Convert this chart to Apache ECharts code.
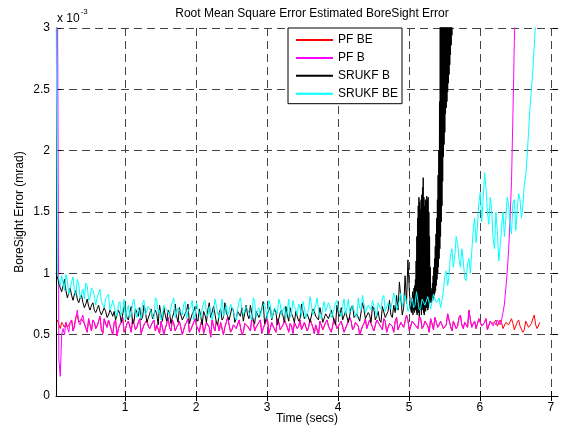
<!DOCTYPE html>
<html>
<head>
<meta charset="utf-8">
<script src="https://cdn.jsdelivr.net/npm/echarts@6/dist/echarts.min.js"></script>
<style>
  html, body { margin: 0; padding: 0; background: #fff; }
  #chart { width: 561px; height: 432px; }
</style>
</head>
<body>
<div id="chart"></div>
<script>
// time grids (secs): first sample and step; the *Mid arrays sit half a step later
const t0 = 0.025
const pfT0 = 0.045
const dt = 0.04
const fineT0 = 5.035
const fineDt = 0.005

const xTicks = [1, 2, 3, 4, 5, 6, 7]
const yTicks = [0, 0.5, 1, 1.5, 2, 2.5, 3]

// values in units of 1e-3 mrad
const pfB = [3.5, 0.16, 0.55,
  0.6, 0.52, 0.62, 0.56, 0.7, 0.58, 0.66, 0.55, 0.63, 0.53, 0.6, 0.57, 0.65, 0.51, 0.59, 0.62, 0.54, 0.6, 0.49, 0.58, 0.64, 0.55, 0.61, 0.52, 0.59, 0.56, 0.63, 0.5, 0.6, 0.57, 0.54, 0.62, 0.58, 0.51, 0.6, 0.55, 0.64, 0.53,
  0.59, 0.56, 0.61, 0.5, 0.58, 0.63, 0.54, 0.6, 0.57, 0.52, 0.62, 0.55, 0.59, 0.48, 0.57, 0.61, 0.53, 0.6, 0.56, 0.64, 0.52, 0.58, 0.55, 0.62, 0.5, 0.59, 0.57, 0.53, 0.61, 0.56, 0.6, 0.51, 0.58, 0.63, 0.55, 0.57, 0.52, 0.6, 0.54, 0.62,
  0.56, 0.59, 0.51, 0.61, 0.57, 0.54, 0.6, 0.53, 0.63, 0.56, 0.58, 0.5, 0.6, 0.55, 0.62, 0.57, 0.53, 0.59, 0.56, 0.61, 0.52, 0.58, 0.64, 0.54, 0.6, 0.57, 0.51, 0.59, 0.55, 0.62, 0.58, 0.53, 0.6, 0.56, 0.63, 0.52, 0.59, 0.57, 0.61, 0.54,
  0.6, 0.56, 0.66, 0.53, 0.61, 0.58, 0.55, 0.63, 0.57, 0.6, 0.52, 0.59, 0.64, 0.56, 0.61, 0.55, 0.58, 0.62, 0.53, 0.6, 0.57, 0.66, 0.55, 0.59, 0.7, 0.56, 0.61, 0.54, 0.6, 0.57, 0.63, 0.55, 0.59,
  0.6, 0.62, 0.58, 0.68, 0.88, 1.2, 1.75, 2.9, 3.6]
const pfBMid = [0.3, 0.5, 0.5,
  0.56, 0.6, 0.53, 0.64, 0.6, 0.63, 0.59, 0.52, 0.58, 0.62, 0.55, 0.61, 0.54, 0.63, 0.56, 0.58, 0.5, 0.62, 0.55, 0.6,
  0.52, 0.59, 0.57, 0.63, 0.54, 0.6, 0.51, 0.58, 0.62, 0.55, 0.6, 0.53, 0.57, 0.61, 0.5, 0.59, 0.56, 0.62, 0.53, 0.58,
  0.61, 0.54, 0.6, 0.52, 0.57, 0.63, 0.55, 0.59, 0.51, 0.6, 0.56, 0.62, 0.53, 0.58, 0.6, 0.5, 0.57, 0.63, 0.54, 0.59,
  0.55, 0.61, 0.52, 0.6, 0.57, 0.64, 0.53, 0.58, 0.62, 0.55, 0.59, 0.51, 0.6, 0.56, 0.63, 0.54, 0.58, 0.61, 0.52, 0.57,
  0.6, 0.55, 0.62, 0.53, 0.59, 0.56, 0.64, 0.51, 0.58, 0.61, 0.54, 0.6, 0.57, 0.52, 0.63, 0.55, 0.59, 0.62, 0.53, 0.58,
  0.61, 0.56, 0.6, 0.5, 0.57, 0.63, 0.55, 0.59, 0.53, 0.62, 0.58, 0.54, 0.61, 0.56, 0.6, 0.52, 0.64, 0.57, 0.59, 0.55,
  0.62, 0.53, 0.6, 0.58, 0.65, 0.55, 0.61, 0.57, 0.63, 0.54, 0.6, 0.58, 0.62, 0.56, 0.67, 0.57, 0.61, 0.55, 0.64, 0.58,
  0.6, 0.56, 0.62, 0.59, 0.55, 0.63, 0.57, 0.6, 0.54, 0.61,
  0.57, 0.58, 0.63, 0.62, 0.75, 1.02, 1.45, 2.3, 3.3]

const pfBE = [0.62, 0.55, 0.58,
  0.6, 0.55, 0.62, 0.58, 0.66, 0.6, 0.64, 0.56, 0.63, 0.53, 0.6, 0.57, 0.65, 0.51, 0.59, 0.62, 0.54, 0.6, 0.49, 0.58, 0.64, 0.55, 0.61, 0.52, 0.59, 0.56, 0.63, 0.5, 0.6, 0.57, 0.54, 0.62, 0.58, 0.51, 0.6, 0.55, 0.64, 0.53,
  0.59, 0.56, 0.61, 0.5, 0.58, 0.63, 0.54, 0.6, 0.57, 0.52, 0.62, 0.55, 0.59, 0.48, 0.57, 0.61, 0.53, 0.6, 0.56, 0.64, 0.52, 0.58, 0.55, 0.62, 0.5, 0.59, 0.57, 0.53, 0.61, 0.56, 0.6, 0.51, 0.58, 0.63, 0.55, 0.57, 0.52, 0.6, 0.54, 0.62,
  0.56, 0.59, 0.51, 0.61, 0.57, 0.54, 0.6, 0.53, 0.63, 0.56, 0.58, 0.5, 0.6, 0.55, 0.62, 0.57, 0.53, 0.59, 0.56, 0.61, 0.52, 0.58, 0.64, 0.54, 0.6, 0.57, 0.51, 0.59, 0.55, 0.62, 0.58, 0.53, 0.6, 0.56, 0.63, 0.52, 0.59, 0.57, 0.61, 0.54,
  0.6, 0.56, 0.66, 0.53, 0.61, 0.58, 0.55, 0.63, 0.57, 0.6, 0.52, 0.59, 0.64, 0.56, 0.61, 0.55, 0.58, 0.62, 0.53, 0.6, 0.57, 0.66, 0.55, 0.59, 0.7, 0.56, 0.61, 0.54, 0.6, 0.57, 0.63, 0.55, 0.59,
  0.6, 0.57, 0.62, 0.55, 0.6, 0.58, 0.63, 0.54, 0.6, 0.57, 0.52, 0.61, 0.56, 0.59, 0.66, 0.55, 0.6]
const pfBEMid = [0.58, 0.6, 0.56,
  0.56, 0.6, 0.53, 0.64, 0.6, 0.63, 0.59, 0.52, 0.58, 0.62, 0.55, 0.61, 0.54, 0.63, 0.56, 0.58, 0.5, 0.62, 0.55, 0.6,
  0.52, 0.59, 0.57, 0.63, 0.54, 0.6, 0.51, 0.58, 0.62, 0.55, 0.6, 0.53, 0.57, 0.61, 0.5, 0.59, 0.56, 0.62, 0.53, 0.58,
  0.61, 0.54, 0.6, 0.52, 0.57, 0.63, 0.55, 0.59, 0.51, 0.6, 0.56, 0.62, 0.53, 0.58, 0.6, 0.5, 0.57, 0.63, 0.54, 0.59,
  0.55, 0.61, 0.52, 0.6, 0.57, 0.64, 0.53, 0.58, 0.62, 0.55, 0.59, 0.51, 0.6, 0.56, 0.63, 0.54, 0.58, 0.61, 0.52, 0.57,
  0.6, 0.55, 0.62, 0.53, 0.59, 0.56, 0.64, 0.51, 0.58, 0.61, 0.54, 0.6, 0.57, 0.52, 0.63, 0.55, 0.59, 0.62, 0.53, 0.58,
  0.61, 0.56, 0.6, 0.5, 0.57, 0.63, 0.55, 0.59, 0.53, 0.62, 0.58, 0.54, 0.61, 0.56, 0.6, 0.52, 0.64, 0.57, 0.59, 0.55,
  0.62, 0.53, 0.6, 0.58, 0.65, 0.55, 0.61, 0.57, 0.63, 0.54, 0.6, 0.58, 0.62, 0.56, 0.67, 0.57, 0.61, 0.55, 0.64, 0.58,
  0.6, 0.56, 0.62, 0.59, 0.55, 0.63, 0.57, 0.6, 0.54, 0.61,
  0.58, 0.62, 0.56, 0.6, 0.54, 0.61, 0.57, 0.59, 0.55, 0.62, 0.58, 0.54, 0.6, 0.57, 0.63, 0.58, 0.56]

const srukfB = [1.0, 0.92, 0.85, 0.95, 0.8, 0.88, 0.78, 0.86, 0.76, 0.82, 0.72, 0.79, 0.7, 0.76, 0.68, 0.74, 0.66, 0.72, 0.64, 0.7, 0.65,
  0.62, 0.7, 0.6, 0.73, 0.64, 0.68, 0.59, 0.71, 0.65, 0.62, 0.74, 0.6, 0.67, 0.63, 0.7, 0.58, 0.66, 0.72, 0.61, 0.68, 0.64, 0.75, 0.6, 0.66, 0.62, 0.7, 0.59, 0.67, 0.73, 0.61, 0.65, 0.69, 0.6, 0.76, 0.63, 0.67, 0.58, 0.71, 0.64, 0.68,
  0.62, 0.72, 0.6, 0.69, 0.65, 0.61, 0.74, 0.63, 0.67, 0.59, 0.7, 0.64, 0.77, 0.6, 0.66, 0.62, 0.71, 0.58, 0.68, 0.65, 0.73, 0.61, 0.67, 0.6, 0.7, 0.63, 0.75, 0.62, 0.66, 0.59, 0.69, 0.64, 0.72, 0.6, 0.67, 0.63, 0.7, 0.61, 0.74, 0.65,
  0.62, 0.69, 0.6, 0.72, 0.64, 0.67, 0.61, 0.76, 0.63, 0.68, 0.6, 0.71, 0.65, 0.62, 0.73, 0.64, 0.69, 0.66,
  0.74, 0.82, 0.93, 0.66, 0.98, 1.11, 0.7]
const srukfBMid = [0.97, 0.88, 0.9, 0.86, 0.84, 0.82, 0.83, 0.79, 0.8, 0.76, 0.75, 0.73, 0.74, 0.7, 0.71, 0.69, 0.67, 0.69, 0.66, 0.68,
  0.69, 0.63, 0.67, 0.6, 0.7, 0.62, 0.73, 0.61, 0.68, 0.72, 0.64, 0.69, 0.6, 0.71, 0.63, 0.67, 0.74, 0.61, 0.66, 0.7,
  0.59, 0.68, 0.65, 0.72, 0.62, 0.67, 0.75, 0.6, 0.69, 0.63, 0.71, 0.58, 0.66, 0.7, 0.64, 0.73, 0.6, 0.68, 0.62, 0.76,
  0.65, 0.61, 0.7, 0.63, 0.68, 0.72, 0.6, 0.66, 0.74, 0.62, 0.69, 0.64, 0.71, 0.59, 0.67, 0.73, 0.61, 0.68, 0.63, 0.7,
  0.6, 0.66, 0.72, 0.64, 0.69, 0.61, 0.75, 0.63, 0.67, 0.6, 0.71, 0.65, 0.62, 0.73, 0.6, 0.68, 0.64, 0.7, 0.58, 0.67,
  0.72, 0.63, 0.69, 0.61, 0.74, 0.65, 0.68, 0.6, 0.71, 0.64, 0.66, 0.73, 0.62, 0.69, 0.6, 0.72, 0.65, 0.78,
  0.64, 0.68, 0.7, 0.8, 0.72, 0.75, 0.85]

// SRUKF B where it blows up, sampled finer
const srukfBFine = [0.68, 0.8, 0.7, 0.85, 0.66, 0.82, 0.7, 0.88, 0.68, 0.9, 0.7, 0.95,
  0.7, 1.1, 0.68, 1.3, 0.66, 1.45, 0.7, 1.55, 0.68, 1.62, 0.65, 1.58, 0.7, 1.52, 0.72, 1.6, 0.66, 1.64, 0.7, 1.7,
  0.72, 1.78, 0.68, 1.62, 0.66, 1.55, 0.7, 1.6, 0.69, 1.58, 0.72, 1.63, 0.74, 1.6, 0.7, 1.62, 0.72, 1.5, 0.75, 1.3, 0.76, 1.05,
  0.78, 0.88, 0.76, 0.86, 0.8, 0.92, 0.78, 0.98, 0.8, 1.05, 0.82, 1.12, 0.84, 1.22, 0.86, 1.32, 0.9, 1.45, 0.95, 1.6,
  1.0, 1.8, 1.05, 2.0, 1.12, 2.4, 1.2, 3.2, 1.3, 3.5, 1.42, 3.5, 1.55, 3.5, 1.75, 3.5, 1.95, 3.5, 2.05, 3.5, 2.15, 3.5,
  2.3, 3.5, 2.35, 3.5, 2.4, 3.5, 2.48, 3.5, 2.55, 3.5, 2.62, 3.5, 2.7, 3.5, 2.78, 3.5, 2.86, 3.5, 2.94, 3.5, 3.02, 3.5, 3.1, 3.5]

const srukfBE = [3.5,
  0.95, 0.98, 0.86, 0.94, 0.88, 0.97, 0.82, 0.92, 0.84, 0.79, 0.9, 0.8, 0.86, 0.74, 0.84, 0.77, 0.72, 0.81, 0.7, 0.78,
  0.68, 0.75, 0.66, 0.79, 0.7, 0.64, 0.76, 0.69, 0.72, 0.63, 0.78, 0.67, 0.71, 0.65, 0.8, 0.68, 0.62, 0.74, 0.7, 0.66, 0.77, 0.64, 0.72, 0.69, 0.75, 0.63, 0.7, 0.78, 0.66, 0.71, 0.64, 0.76, 0.68, 0.73, 0.62, 0.79, 0.67, 0.7, 0.65, 0.74,
  0.69, 0.76, 0.64, 0.71, 0.8, 0.66, 0.73, 0.68, 0.62, 0.77, 0.7, 0.65, 0.74, 0.69, 0.78, 0.63, 0.72, 0.67, 0.75, 0.7, 0.64, 0.79, 0.68, 0.73, 0.66, 0.71, 0.77, 0.63, 0.7, 0.74, 0.67, 0.8, 0.65, 0.72, 0.69, 0.76, 0.64, 0.71, 0.78, 0.68,
  0.73, 0.66, 0.79, 0.7, 0.75, 0.64, 0.72, 0.82, 0.68, 0.74, 0.7, 0.77, 0.65, 0.73, 0.8, 0.69, 0.76, 0.71, 0.84, 0.7, 0.78, 0.73, 0.82, 0.69, 0.76, 0.72, 0.85, 0.7, 0.79, 0.74, 0.81, 0.71, 0.83, 0.76, 0.8,
  0.78, 0.98, 0.9, 1.15, 1.05, 1.3, 1.12, 1.2, 0.96, 1.08, 1.0, 1.35, 1.25, 1.58, 1.42, 1.82, 1.5, 1.62, 1.28, 1.5, 1.1, 1.38, 1.3, 1.62, 1.4, 1.58, 1.35, 1.65, 1.45, 1.72, 1.95, 2.35, 2.65, 3.05, 3.4]
const srukfBEMid = [1.0,
  0.9, 0.92, 0.99, 0.83, 0.93, 0.86, 0.95, 0.8, 0.87, 0.92, 0.78, 0.88, 0.82, 0.8, 0.87, 0.74, 0.79, 0.83, 0.73,
  0.73, 0.65, 0.77, 0.7, 0.62, 0.74, 0.67, 0.79, 0.64, 0.71, 0.76, 0.66, 0.73, 0.69, 0.63, 0.78, 0.7, 0.65, 0.75, 0.68,
  0.72, 0.8, 0.64, 0.7, 0.66, 0.77, 0.69, 0.73, 0.62, 0.76, 0.67, 0.71, 0.78, 0.65, 0.72, 0.68, 0.74, 0.63, 0.79, 0.7,
  0.66, 0.75, 0.69, 0.62, 0.77, 0.71, 0.65, 0.73, 0.68, 0.8, 0.64, 0.72, 0.7, 0.76, 0.63, 0.74, 0.67, 0.71, 0.79, 0.66,
  0.73, 0.69, 0.64, 0.78, 0.7, 0.75, 0.65, 0.72, 0.68, 0.81, 0.66, 0.74, 0.7, 0.63, 0.77, 0.69, 0.73, 0.67, 0.76, 0.71,
  0.65, 0.79, 0.72, 0.68, 0.74, 0.66, 0.8, 0.7, 0.75, 0.67, 0.73, 0.78, 0.69, 0.76, 0.71, 0.82, 0.68, 0.75, 0.72, 0.79,
  0.7, 0.84, 0.73, 0.77, 0.71, 0.8, 0.74, 0.86, 0.72, 0.78, 0.75, 0.82, 0.7, 0.79, 0.76,
  0.72, 0.86, 1.02, 0.98, 1.2, 1.14, 1.24, 1.05, 1.1, 0.94, 1.12, 1.18, 1.45, 1.38, 1.66, 1.6, 1.7, 1.4, 1.52, 1.2,
  1.34, 1.22, 1.5, 1.45, 1.55, 1.32, 1.6, 1.52, 1.6, 1.55, 1.8, 2.15, 2.5, 2.85, 3.2]

// samples at start + i*step, with the mid samples slotted in between
function toPairs(start, step, vals, mids) {
  const out = []
  vals.forEach((v, i) => {
    out.push([start + i * step, v])
    if (mids && i < mids.length) out.push([start + (i + 0.5) * step, mids[i]])
  })
  return out
}

const font = 'Liberation Sans, Arial, sans-serif'
const gridLine = { show: true, lineStyle: { color: '#444', type: [8, 5], width: 1 } }

function lineSeries(name, color, data) {
  return {
    name: name,
    type: 'line',
    data: data,
    symbol: 'none',
    showSymbol: false,
    clip: true,
    lineStyle: { color: color, width: 1 },
    itemStyle: { color: color },
    emphasis: { disabled: true }
  }
}

const chart = echarts.init(document.getElementById('chart'))

const option = {
  animation: false,
  backgroundColor: '#fff',
  textStyle: { fontFamily: font },
  title: {
    text: 'Root Mean Square Error Estimated BoreSight Error',
    left: 307,
    textAlign: 'center',
    top: 3,
    textStyle: { fontFamily: font, fontSize: 12, fontWeight: 'normal', color: '#000' }
  },
  legend: {
    left: 288,
    top: 28,
    orient: 'vertical',
    itemWidth: 37,
    itemHeight: 12,
    itemGap: 5.9,
    padding: [6, 4, 4, 7],
    backgroundColor: '#fff',
    borderColor: '#000',
    borderWidth: 1,
    borderRadius: 0,
    itemStyle: { opacity: 0 },
    textStyle: { fontFamily: font, fontSize: 12, color: '#000' },
    data: ['PF BE', 'PF B', 'SRUKF B', 'SRUKF BE']
  },
  grid: { left: 56, right: 3, top: 28, bottom: 36, containLabel: false, outerBoundsMode: 'none' },
  xAxis: [{
    type: 'value',
    min: 0.025,
    max: 7.1,
    name: 'Time (secs)',
    nameLocation: 'middle',
    nameGap: 17,
    nameMoveOverlap: false,
    nameTextStyle: { fontFamily: font, fontSize: 12, color: '#000' },
    axisLine: { show: true, onZero: false, lineStyle: { color: '#000', width: 1 } },
    axisTick: { show: true, inside: true, length: 5, customValues: xTicks, lineStyle: { color: '#000' } },
    axisLabel: { show: true, margin: 6, customValues: xTicks, fontFamily: font, fontSize: 12, color: '#000' },
    splitLine: gridLine
  }, {
    type: 'value',
    position: 'top',
    min: 0.025,
    max: 7.1,
    axisLine: { show: false },
    axisTick: { show: true, inside: true, length: 5, customValues: xTicks, lineStyle: { color: '#000' } },
    axisLabel: { show: false },
    splitLine: { show: false }
  }],
  yAxis: [{
    type: 'value',
    min: 0,
    max: 3,
    interval: 0.5,
    name: 'BoreSight Error (mrad)',
    nameLocation: 'middle',
    nameGap: 30,
    nameMoveOverlap: false,
    nameTextStyle: { fontFamily: font, fontSize: 12, color: '#000' },
    axisLine: { show: true, onZero: false, lineStyle: { color: '#000', width: 1 } },
    axisTick: { show: true, inside: true, length: 5, lineStyle: { color: '#000' } },
    axisLabel: { show: true, margin: 6, fontFamily: font, fontSize: 12, color: '#000',
      formatter: v => yTicks.includes(v) ? String(v) : '' },
    splitLine: gridLine
  }, {
    type: 'value',
    position: 'right',
    min: 0,
    max: 3,
    interval: 0.5,
    axisLine: { show: false },
    axisTick: { show: true, inside: true, length: 5, lineStyle: { color: '#000' } },
    axisLabel: { show: false },
    splitLine: { show: false }
  }],
  graphic: [{
    type: 'text',
    left: 57,
    top: 8,
    style: {
      text: '{b|x 10}{s|-3}',
      rich: {
        b: { fontFamily: font, fontSize: 12, fill: '#000', padding: [7, 0, 0, 0] },
        s: { fontFamily: font, fontSize: 8, fill: '#000', padding: [0, 0, 6, 1] }
      }
    }
  }],
  series: [
    lineSeries('PF BE', '#ff0000', toPairs(pfT0, dt, pfBE, pfBEMid)),
    lineSeries('PF B', '#ff00ff', toPairs(pfT0, dt, pfB, pfBMid)),
    lineSeries('SRUKF B', '#000000', toPairs(t0, dt, srukfB, srukfBMid).concat(toPairs(fineT0, fineDt, srukfBFine))),
    lineSeries('SRUKF BE', '#00ffff', toPairs(t0, dt, srukfBE, srukfBEMid))
  ]
}

chart.setOption(option)
</script>
</body>
</html>
